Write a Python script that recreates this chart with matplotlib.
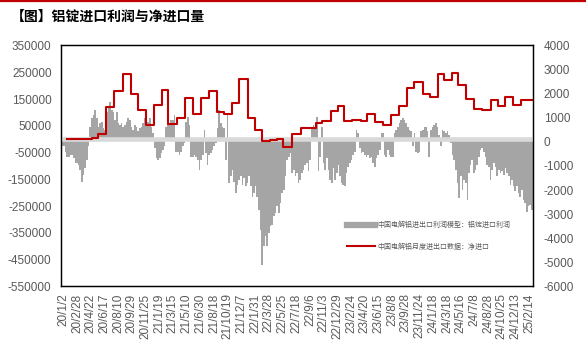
import numpy as np
import pandas as pd
import matplotlib
matplotlib.use('Agg')
import matplotlib.pyplot as plt
from matplotlib.lines import Line2D

plt.rcParams['font.family'] = ['Liberation Sans', 'Noto Sans CJK SC', 'DejaVu Sans']
plt.rcParams['axes.unicode_minus'] = False

# 铝锭进口利润（日度数据，按图上约每 4~5 个交易日读一个值）
profit = [
    # 2020
    -27000, -27000, -46000, -65000, -65000, -58000, -58000, -71000, -89000, -89000,
    -96000, -114000, -158000, -133000, -108000, -77000, -27000, 47000, 78000, 90000,
    109000, 78000, 47000, 60000, 66000, 41000, 35000, 103000, 115000, 140000,
    109000, 103000, 72000, 103000, 60000, 53000, 60000, 47000, 53000, 66000,
    78000, 72000, 47000, 35000, 53000, 47000, 29000, 41000, 47000, 60000,
    78000, 72000, 66000, 78000, 47000, 22000, -34000, -71000, -77000, -71000,
    -52000, -40000, -27000, 47000, 90000, 60000, 72000, 72000, 90000,
    # 2021 - 2022
    -46000, -46000, -58000, -46000, -27000, -15000, 66000, 82000, 53000, -65000,
    -65000, -58000, -65000, -77000, -114000, -77000, -58000, 35000, -52000, -96000,
    -58000, -52000, -40000, -27000, -15000, 41000, 109000, 60000, 47000, 41000,
    -77000, 97000, -164000, -139000, -114000, -158000, -201000, -170000, -151000, -139000,
    -170000, -145000, -176000, -164000, -139000, -176000, -214000, -201000, -176000, -214000,
    -263000, -338000, -468000, -400000, -362000, -400000, -350000, -325000, -319000, -288000,
    -276000, -251000, -276000, -238000, -201000, -189000, -139000, -77000, -65000, -52000,
    -127000, -114000,
    # 2022 - 2023
    -139000, -127000, -164000, -151000, -127000, -114000, -96000, -89000, -120000, -77000,
    41000, 53000, 47000, 84000, -120000, -65000, 47000, -89000, -114000, -71000,
    -114000, -151000, -164000, -108000, -151000, -127000, -96000, -139000, -164000, -170000,
    -176000, -127000, -102000, -89000, -77000, -58000, -46000, 35000, 22000, -34000,
    -52000, -46000, -58000, -65000, -58000, -71000, -65000, -89000, -102000, -71000,
    -58000, -40000, 22000, 22000, -58000, -65000, -40000, -58000, -65000, -65000,
    22000, 35000, 47000, 60000, 72000, 78000, 72000, 60000, 47000, 35000,
    29000, -27000,
    # 2023 - 2025
    22000, -46000, -52000, -46000, 29000, 35000, 47000, 47000, 29000, -65000,
    35000, 47000, 53000, 60000, 47000, 16000, -27000, 35000, 29000, 22000,
    29000, 16000, -15000, -58000, -77000, -114000, -164000, -220000, -139000, -189000,
    -151000, -164000, -226000, -127000, -96000, -77000, -127000, -114000, -96000, -65000,
    -40000, -34000, -46000, -65000, -96000, -102000, -151000, -114000, -89000, -102000,
    -139000, -114000, -127000, -120000, -133000, -108000, -127000, -139000, -170000, -151000,
    -176000, -195000, -176000, -201000, -214000, -189000, -226000, -238000, -270000, -251000,
    -245000, -263000,
]

tick_labels = [
    '20/1/2', '20/2/28', '20/4/22', '20/6/17', '20/8/10', '20/9/29', '20/11/25',
    '21/1/19', '21/3/15', '21/5/10', '21/6/30', '21/8/18', '21/10/19', '21/12/7',
    '22/1/31', '22/3/28', '22/5/25', '22/7/18', '22/9/6', '22/11/3', '22/12/29',
    '23/2/24', '23/4/20', '23/6/15', '23/8/8', '23/9/28', '23/11/24', '24/1/18',
    '24/3/18', '24/5/16', '24/7/8', '24/8/28', '24/10/25', '24/12/13', '25/2/14',
]

# 净进口（月度），每段数值开始的日期
net_start = [
    '2020-01-17', '2020-03-24', '2020-04-26', '2020-05-23', '2020-06-23', '2020-07-26',
    '2020-08-27', '2020-09-26', '2020-10-26', '2020-11-28', '2020-12-30', '2021-01-31',
    '2021-02-22', '2021-03-30', '2021-05-03', '2021-06-02', '2021-07-01', '2021-07-31',
    '2021-08-30', '2021-10-02', '2021-11-02', '2021-11-29', '2022-01-01', '2022-01-29',
    '2022-02-27', '2022-04-01', '2022-05-02', '2022-05-27', '2022-07-02', '2022-08-03',
    '2022-10-01', '2022-10-29', '2022-12-05', '2023-01-01', '2023-01-26', '2023-02-26',
    '2023-04-04', '2023-05-01', '2023-05-31', '2023-07-03', '2023-08-02', '2023-09-02',
    '2023-10-03', '2023-10-31', '2023-12-06', '2024-01-04', '2024-02-06', '2024-03-04',
    '2024-04-07', '2024-05-05', '2024-06-05', '2024-07-06', '2024-08-06', '2024-09-09',
    '2024-10-10', '2024-11-07', '2024-12-04', '2025-01-05',
]
net_import = [
    100, 140, 180, 310, 1448, 2110,
    2813, 2002, 1311, 691, 1547, 2168,
    732, 1009, 1820, 1175, 1820, 2110,
    1258, 1175, 1614, 2607, 993, 484,
    17, 58, 112, -207, 331, 579,
    803, 856, 1270, 1489, 856, 927,
    856, 1175, 815, 720, 1117, 1489,
    2222, 2482, 2002, 1862, 2801, 2582,
    2855, 2375, 1779, 1365, 1340, 1738,
    1489, 1849, 1547, 1738,
]

grey = '#a5a5a5'
red = '#c00000'
txt = '#595959'

fig = plt.figure(figsize=(5.86, 3.51), dpi=100)
fig.add_artist(Line2D([0, 1], [0.996, 0.996], color=red, lw=1.6, transform=fig.transFigure))
fig.text(0.018, 0.952, '【图】铝锭进口利润与净进口量', fontsize=10, fontweight='bold',
         family=['Noto Sans CJK SC'], color='black', va='center', ha='left')

ax = fig.add_axes([0.1046, 0.1838, 0.8044, 0.6866])
n = len(profit)
x = np.arange(n)
ax.bar(x, profit, width=1.0, color=grey, linewidth=0, zorder=2)
ax.axhline(0, color='#d9d9d9', lw=3.3, zorder=3)
ax.set_xlim(-0.5, n - 0.5)
ax.set_ylim(-550000, 350000)
ax.set_yticks(np.arange(-550000, 350001, 100000))
ax.set_yticklabels(['%d' % v for v in np.arange(-550000, 350001, 100000)])

# 日期 -> 横轴位置：标签等间距
tick_pos = np.linspace(0.71, n - 2.6, len(tick_labels))
tick_dates = pd.to_datetime(tick_labels, format='%y/%m/%d')
ax.set_xticks(tick_pos)
ax.set_xticklabels(tick_labels, rotation=90)

ax2 = ax.twinx()
net_pos = np.interp(pd.to_datetime(net_start).values.astype('int64'),
                    tick_dates.values.astype('int64'), tick_pos)
sx = list(net_pos) + [n - 0.5]
sy = list(net_import) + [net_import[-1]]
ax2.plot(sx, sy, drawstyle='steps-post', color=red, lw=1.5, zorder=4)
ax2.set_ylim(-6000, 4000)
ax2.set_yticks(np.arange(-6000, 4001, 1000))

for a in (ax, ax2):
    for s in a.spines.values():
        s.set_color('black')
        s.set_linewidth(0.9)
    a.tick_params(length=0, labelsize=8.5, labelcolor=txt)
ax.tick_params(axis='y', pad=7)
ax.tick_params(axis='x', pad=5)
ax2.tick_params(axis='y', pad=8)

handles = [Line2D([], [], color=grey, lw=4.5), Line2D([], [], color=red, lw=1.5)]
labels = ['中国电解铝进出口利润模型：铝锭进口利润', '中国电解铝月度进出口数据：净进口']
ax2.legend(handles, labels, loc='upper left', bbox_to_anchor=(0.606, 0.27), frameon=False,
           prop={'family': ['Noto Sans CJK SC'], 'size': 5}, labelcolor=txt,
           handlelength=4.0, handletextpad=0.4, labelspacing=1.9,
           borderpad=0, borderaxespad=0)

fig.savefig('out.png', dpi=100)
